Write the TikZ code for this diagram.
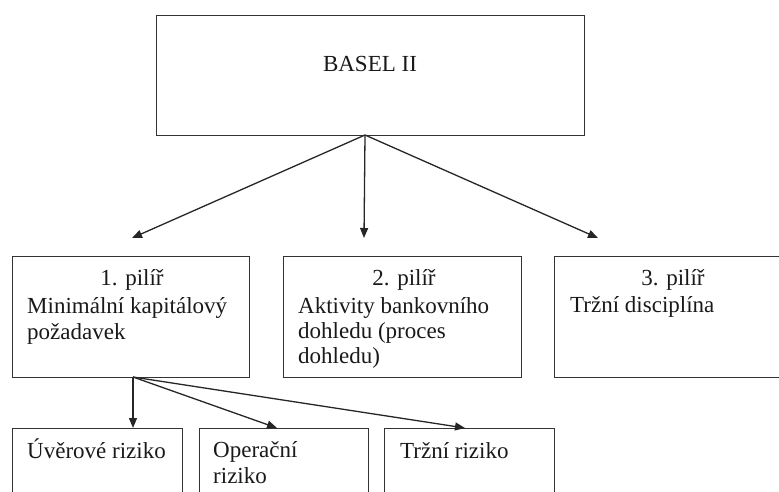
\documentclass[tikz,border=0pt]{standalone}
\usepackage{fontspec}
\setmainfont{Liberation Serif}
\usetikzlibrary{arrows.meta}
\begin{document}
\begin{tikzpicture}[x=1pt,y=-1pt,
  box/.style={draw=black!80,line width=1.4pt,rectangle,inner sep=0pt,anchor=north west},
  txt/.style={anchor=base west,inner sep=0pt,font=\fontsize{23}{26}\selectfont,text=black!90},
  ctxt/.style={anchor=base,inner sep=0pt,font=\fontsize{23}{26}\selectfont,text=black!90},
  conn/.style={draw=black!85,line width=1.3pt,-{Triangle[length=10pt,width=8pt]}}]
\useasboundingbox (0,0) rectangle (779,492);
\clip (0,0) rectangle (779,492);
% boxes
\node[box,minimum width=428pt,minimum height=120pt] (basel) at (156,15) {};
\node[box,minimum width=237pt,minimum height=121pt] (p1) at (12,256) {};
\node[box,minimum width=238pt,minimum height=121pt] (p2) at (283,256) {};
\node[box,minimum width=238pt,minimum height=121pt] (p3) at (554,256) {};
\node[box,minimum width=170pt,minimum height=90pt] (r1) at (12,428) {};
\node[box,minimum width=169pt,minimum height=90pt] (r2) at (199,428) {};
\node[box,minimum width=170pt,minimum height=90pt] (r3) at (384,428) {};
% texts
\node[ctxt] (tb) at (370,72) {BASEL II};
\node[ctxt] (t1a) at (132,285) {1. pilíř};
\node[txt] (t1b) at (27,313) {Minimální kapitálový};
\node[txt] (t1c) at (27,339) {požadavek};
\node[ctxt] (t2a) at (404,285) {2. pilíř};
\node[txt] (t2b) at (298,313) {Aktivity bankovního};
\node[txt] (t2c) at (298,338) {dohledu (proces};
\node[txt] (t2d) at (298,363) {dohledu)};
\node[ctxt] (t3a) at (673,285) {3. pilíř};
\node[txt] (t3b) at (570,312) {Tržní disciplína};
\node[txt] (tr1) at (27,458) {Úvěrové riziko};
\node[txt] (tr2a) at (213,457) {Operační};
\node[txt] (tr2b) at (213,483) {riziko};
\node[txt] (tr3) at (400,458) {Tržní riziko};
% connectors
\coordinate (bo) at (365,135);
\coordinate (e1) at (132,238);
\coordinate (e2) at (364,238);
\coordinate (e3) at (598,238);
\draw[conn] (bo) -- (e1);
\draw[conn] (bo) -- (e2);
\draw[conn] (bo) -- (e3);
\coordinate (po) at (133,377);
\draw[conn] (po) -- (r1.north west -| po);
\draw[conn] (po) -- (r2.north west -| 277,0);
\draw[conn] (po) -- (r3.north west -| 465,0);
\end{tikzpicture}
\end{document}
